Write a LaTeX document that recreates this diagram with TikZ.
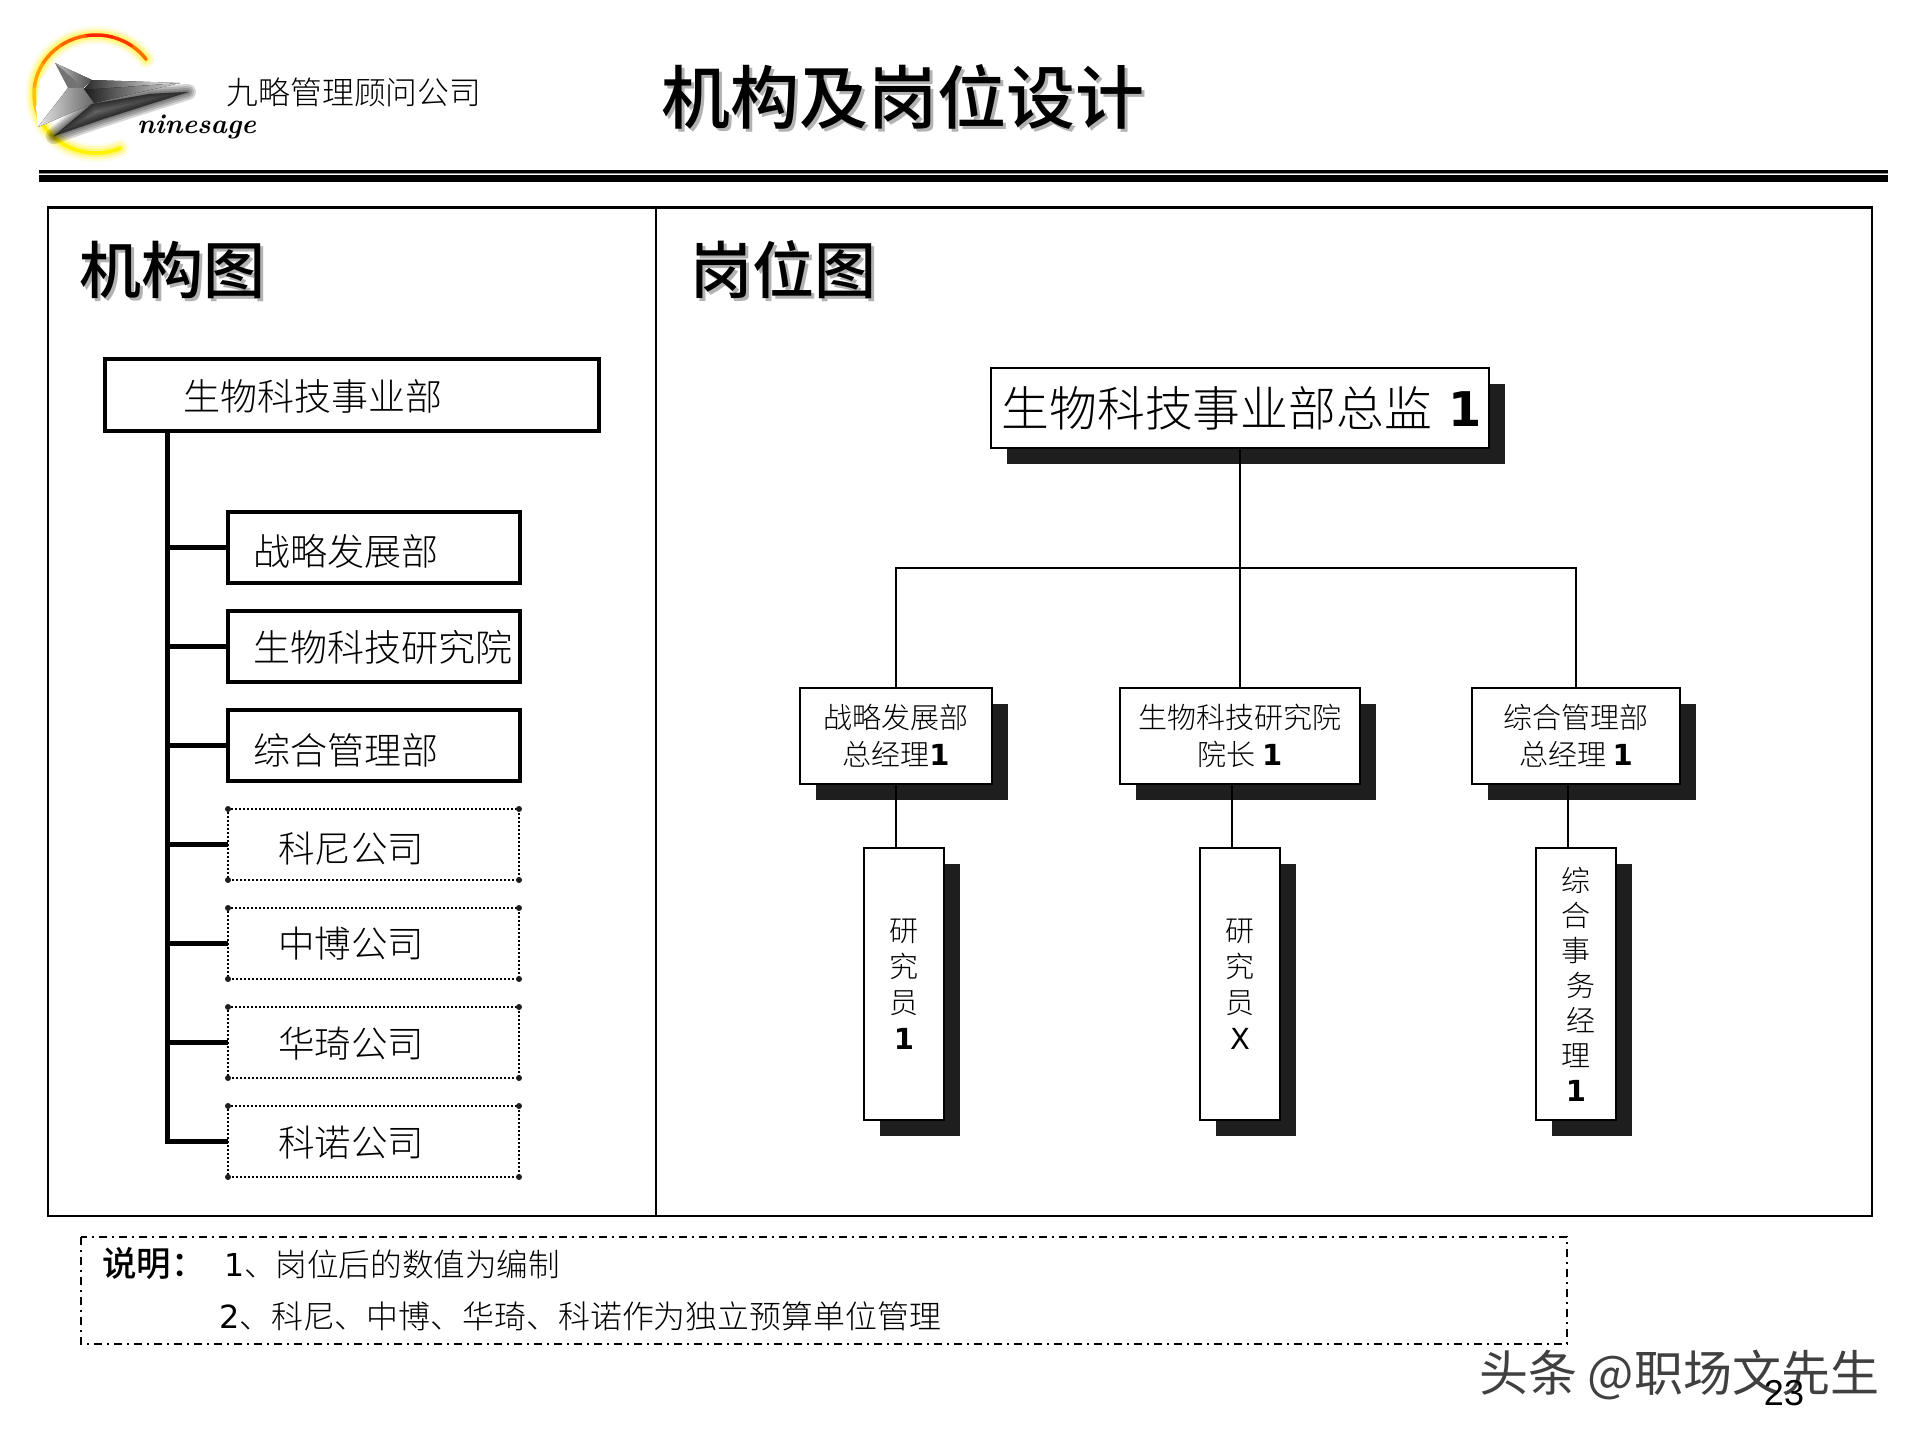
\documentclass[tikz,border=0pt]{standalone}
\usepackage{fontspec}
\usetikzlibrary{shadows,calc}
\newfontfamily\cjk{Noto Sans CJK SC}
\newfontfamily\cjkl{Noto Sans CJK SC Light}
\newfontfamily\cjkm{Noto Sans CJK SC Medium}
\newfontfamily\numf{DejaVu Sans}
\newfontfamily\arialf{Liberation Sans}
\definecolor{shad}{HTML}{1E1E1E}
\newcommand{\fsz}[1]{\fontsize{#1}{#1}\selectfont}
\newcommand{\shtx}[1]{\rlap{\raisebox{-3pt}{\hspace{3pt}\textcolor{black!30}{#1}}}#1}
\newcommand{\lft}[4]{\makebox[#1pt][l]{\hspace{#2pt}\raisebox{#3pt}[28pt][0pt]{#4}}}
\newcommand{\one}{{\numf\bfseries 1}}
\tikzset{
  solidbox/.style={draw=black,line width=4pt,fill=white,inner sep=0pt,outer sep=0pt,font=\cjkl\fsz{37}},
  dotbox/.style={draw=black,line width=2pt,dash pattern=on 2pt off 2pt,fill=white,inner sep=0pt,outer sep=0pt,font=\cjkl\fsz{36.5}},
  shbox/.style={draw=black,line width=2.4pt,fill=white,inner sep=0pt,outer sep=0pt,align=center,
    drop shadow={shadow xshift=16pt,shadow yshift=-16pt,opacity=1,fill=shad},font=\cjkl\fsz{29}},
  trunk/.style={line width=5pt,draw=black},
  conn/.style={line width=2pt,draw=black},
  plain/.style={inner sep=0pt,outer sep=0pt},
  blob/.style={fill=shad,draw=none},
}
\begin{document}
\begin{tikzpicture}[x=1pt,y=-1pt]
\useasboundingbox (0,0) rectangle (1920,1440);
\fill[white] (0,0) rectangle (1920,1440);

% ---------- logo ----------
\foreach \w/\o in {18/.10,13/.20,8/.35}{
  \draw[yellow,line width=\w pt,opacity=\o,line cap=round]
    ({96+62*cos(-36)},{94+59*sin(-36)}) arc[start angle=-36,end angle=-293,x radius=62,y radius=59];
}
\foreach \a/\b/\c in {-36/-55/orange!85!red,-55/-75/orange!45!red,-75/-100/orange!30!red,-100/-125/orange!75!red,
  -125/-150/orange,-150/-175/orange!70!yellow,-175/-205/orange!45!yellow,-205/-235/orange!15!yellow,-235/-293/yellow}{
  \draw[\c,line width=3.5pt,line cap=round]
    ({96+62*cos(\a)},{94+59*sin(\a)}) arc[start angle=\a,end angle=\b,x radius=62,y radius=59];
}
% smoke behind the blade
\foreach \w in {16,12,8,4,1}{
  \fill[black,opacity=.16,draw=black,line width=\w pt,line join=round,draw opacity=.16]
    (92,104) -- (150,94) -- (188,92) -- (150,104) -- (100,120) -- (54,136) -- cycle;
}
\fill[white] (38,127) -- (68,88) -- (55,63) -- (40,80) -- (36,108) -- cycle;
% star facets
\fill[left color=black!25,right color=black!70] (55,63) -- (92,80) -- (83,88) -- cycle;
\fill[black!55] (55,63) -- (83,88) -- (68,88) -- cycle;
\fill[left color=black!85,right color=white] (92,80) -- (180,83) -- (83,90) -- cycle;
\fill[left color=black!90,right color=black!15] (83,90) -- (180,83) -- (94,103) -- cycle;
\fill[left color=black!10,right color=black!60] (38,127) -- (68,88) -- (83,88) -- (94,103) -- cycle;
\node[plain,font=\bfseries\itshape\fsz{27.5},anchor=base west] (ns) at (137,133) {ninesage};
\node[plain,font=\cjkl\fsz{31.8},anchor=center] (co) at (354,92) {九略管理顾问公司};

% ---------- title and rule ----------
\node[plain,font=\cjkm\fsz{69},anchor=center] (ttl) at (903,98) {\shtx{机构及岗位设计}};
\fill[black] (39,170) rectangle (1888,172.5);
\fill[black!45] (39,172.5) rectangle (1888,173.5);
\fill[black] (39,175) rectangle (1888,182);

% ---------- frame ----------
\draw[line width=2.5pt] (48,207.5) rectangle (1872,1216);
\draw[line width=1.5pt] (656,207.5) -- (656,1216);
\node[plain,font=\cjkm\fsz{62},anchor=center] (h1) at (172,271) {\shtx{机构图}};
\node[plain,font=\cjkm\fsz{62},anchor=center] (h2) at (783,271) {\shtx{岗位图}};

% ---------- left column ----------
\node[solidbox,minimum width=494pt,minimum height=72pt] (main) at (352,395) {\lft{494}{78}{-1}{生物科技事业部}};
\node[solidbox,minimum width=292pt,minimum height=71pt] (a1) at (374,547.5) {\lft{292}{25}{-4}{战略发展部}};
\node[solidbox,minimum width=292pt,minimum height=71pt] (a2) at (374,646.5) {\lft{292}{25}{-0.5}{生物科技研究院}};
\node[solidbox,minimum width=292pt,minimum height=71pt] (a3) at (374,745.5) {\lft{292}{25}{-4.5}{综合管理部}};
\node[dotbox,minimum width=291pt,minimum height=71pt] (d1) at (373.5,844.5) {\lft{291}{50}{-4}{科尼公司}};
\node[dotbox,minimum width=291pt,minimum height=71pt] (d2) at (373.5,943.5) {\lft{291}{50}{0}{中博公司}};
\node[dotbox,minimum width=291pt,minimum height=71pt] (d3) at (373.5,1042.5) {\lft{291}{50}{-1}{华琦公司}};
\node[dotbox,minimum width=291pt,minimum height=71pt] (d4) at (373.5,1141.5) {\lft{291}{50}{-1}{科诺公司}};
\foreach \n in {d1,d2,d3,d4}{
  \foreach \c in {north west,north east,south west,south east}{
    \fill[blob] (\n.\c) circle (3pt);
  }
}
\coordinate (tk) at (167,1141.5);
\draw[trunk,line cap=rect] (main.south -| tk) -- (tk);
\foreach \n in {a1,a2,a3,d1,d2,d3,d4}{
  \draw[trunk] (\n.west) -- (\n.west -| tk);
}

% ---------- right column ----------
\node[shbox,font=\cjkl\fsz{47.8},minimum width=498pt,minimum height=80pt] (top) at (1240,408) {\hspace{4pt}生物科技事业部总监\hspace{17pt}{\numf\bfseries 1}};
\node[shbox,minimum width=192pt,minimum height=96pt] (s1) at (896,736) {战略发展部\\[8pt]总经理\one};
\node[shbox,minimum width=240pt,minimum height=96pt] (s2) at (1240,736) {生物科技研究院\\[8pt]院长 \one};
\node[shbox,minimum width=208pt,minimum height=96pt] (s3) at (1576,736) {综合管理部\\[8pt]总经理 \one};
\node[shbox,minimum width=80pt,minimum height=272pt] (r1) at (904,984) {研\\[7pt]究\\[7pt]员\\[7pt]\one};
\node[shbox,minimum width=80pt,minimum height=272pt] (r2) at (1240,984) {研\\[7pt]究\\[7pt]员\\[7pt]{\numf X}};
\node[shbox,minimum width=80pt,minimum height=272pt] (r3) at (1576,984) {综\\[6pt]合\\[6pt]事\\[6pt]\hspace*{10pt}务\\[6pt]\hspace*{10pt}经\\[6pt]理\\[6pt]\one};
\coordinate (bus) at (1240,568);
\draw[conn] (top.south) -- (s2.north);
\draw[conn] (s1.north) -- (s1.north |- bus) -- (s3.north |- bus) -- (s3.north);
\draw[conn] ([xshift=-8pt]r1.north) -- ([xshift=-8pt]r1.north |- s1.south);
\draw[conn] ([xshift=-8pt]r2.north) -- ([xshift=-8pt]r2.north |- s2.south);
\draw[conn] ([xshift=-8pt]r3.north) -- ([xshift=-8pt]r3.north |- s3.south);

% ---------- note ----------
\draw[line width=2pt,dash pattern=on 8pt off 5pt on 2pt off 5pt] (81,1237) rectangle (1567,1344);
\node[plain,font=\cjkm\fsz{34.5},anchor=west] (n0) at (102,1264) {说明：};
\node[plain,font=\cjkl\fsz{31.6},anchor=west] (n1) at (224,1264) {{\numf 1}、岗位后的数值为编制};
\node[plain,font=\cjkl\fsz{31.9},anchor=west] (n2) at (219,1316) {{\numf 2}、科尼、中博、华琦、科诺作为独立预算单位管理};

% ---------- watermark and page number ----------
\node[plain,font=\cjk\fsz{49},text=black!75,anchor=west] (wm) at (1479,1375) {头条 @职场文先生};
\node[plain,font=\arialf\fsz{36},anchor=center] (pg) at (1784,1393) {23};
\end{tikzpicture}
\end{document}
